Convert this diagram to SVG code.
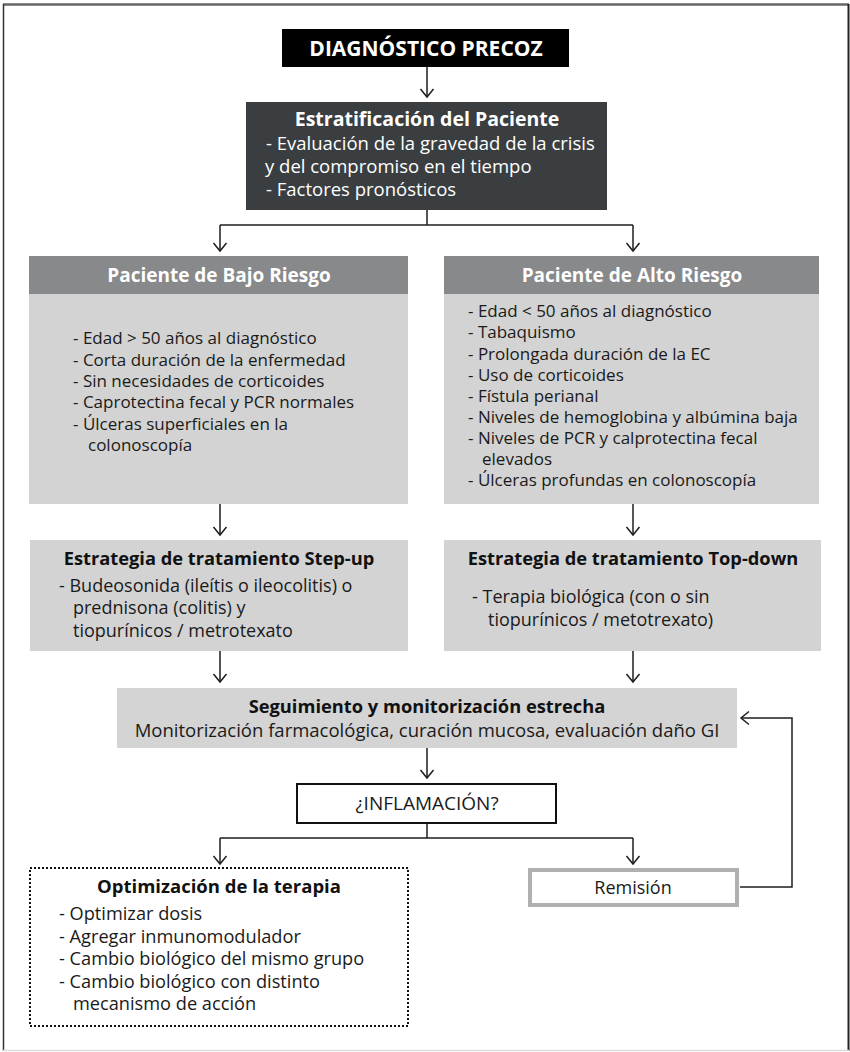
<svg xmlns="http://www.w3.org/2000/svg" width="850" height="1052" viewBox="0 0 850 1052">
  <style>
    text { font-family: "Open Sans", "Noto Sans", "DejaVu Sans", sans-serif; }
    .b { font-weight: 700; }
    .w { fill: #ffffff; }
    .k { fill: #111111; }
    .c { text-anchor: middle; }
    .body { font-size: 17px; fill: #1a1a1a; }
    .body2 { font-size: 18px; fill: #1a1a1a; }
    .opt { font-size: 18.2px; fill: #1a1a1a; }
    .ln { fill: none; stroke: #1e1e1e; stroke-width: 1.5; }
    .arr { fill: none; stroke: #1e1e1e; stroke-width: 1.5; marker-end: url(#ah); }
  </style>
  <defs>
    <marker id="ah" markerUnits="userSpaceOnUse" markerWidth="18" markerHeight="18" viewBox="-10 -9 12 18" refX="0" refY="0" orient="auto">
      <path d="M-8,-6.5 L0,0 L-8,6.5" fill="none" stroke="#1e1e1e" stroke-width="1.5"/>
    </marker>
  </defs>

  <rect width="850" height="1052" fill="#ffffff"/>

  <!-- frame -->
  <g id="frame">
    <line x1="3" y1="4.5" x2="849" y2="4.5" stroke="#666666" stroke-width="2.5"/>
    <line x1="3.5" y1="4" x2="3.5" y2="1051" stroke="#333333" stroke-width="1.5"/>
    <line x1="848.5" y1="4" x2="848.5" y2="1051" stroke="#222222" stroke-width="2"/>
    <line x1="3" y1="1050.5" x2="849" y2="1050.5" stroke="#dddddd" stroke-width="1.5"/>
  </g>

  <!-- connectors -->
  <g id="connectors">
    <path class="arr" d="M427,67 V97"/>
    <path class="ln" d="M427,210 V225 M220,225 H633"/>
    <path class="arr" d="M220,225 V251"/>
    <path class="arr" d="M633,225 V251"/>
    <path class="arr" d="M220,504 V535"/>
    <path class="arr" d="M633,504 V535"/>
    <path class="arr" d="M220,651 V682"/>
    <path class="arr" d="M633,651 V682"/>
    <path class="arr" d="M427,748 V778"/>
    <path class="ln" d="M427,823 V838 M220,838 H633"/>
    <path class="arr" d="M220,838 V864"/>
    <path class="arr" d="M633,838 V864"/>
    <path class="arr" d="M740,887 H792 V718 H741" stroke="#333333" stroke-width="2"/>
  </g>

  <!-- DIAGNÓSTICO PRECOZ -->
  <g id="diagnostico">
    <rect x="282" y="29" width="287" height="38" fill="#000000"/>
    <text x="426" y="55.5" class="b w c" font-size="21">DIAGNÓSTICO PRECOZ</text>
  </g>

  <!-- Estratificación del Paciente -->
  <g id="estratificacion">
    <rect x="246" y="102" width="361" height="108" fill="#3b3e40"/>
    <text x="427" y="126" class="b w c" font-size="19.5">Estratificación del Paciente</text>
    <text x="266" y="150" class="w" font-size="18.5">- Evaluación de la gravedad de la crisis</text>
    <text x="265" y="173" class="w" font-size="18.5">y del compromiso en el tiempo</text>
    <text x="266" y="196" class="w" font-size="18.5">- Factores pronósticos</text>
  </g>

  <!-- Paciente de Bajo Riesgo -->
  <g id="bajo-riesgo">
    <rect x="29" y="294" width="379" height="210" fill="#d3d3d3"/>
    <rect x="29" y="256" width="379" height="38" fill="#87898b"/>
    <text x="219" y="282" class="b w c" font-size="19">Paciente de Bajo Riesgo</text>
    <text class="body" x="73" y="344">- Edad &gt; 50 años al diagnóstico</text>
    <text class="body" x="73" y="366">- Corta duración de la enfermedad</text>
    <text class="body" x="73" y="387">- Sin necesidades de corticoides</text>
    <text class="body" x="73" y="408">- Caprotectina fecal y PCR normales</text>
    <text class="body" x="73" y="430">- Úlceras superficiales en la</text>
    <text class="body" x="88" y="451">colonoscopía</text>
  </g>

  <!-- Paciente de Alto Riesgo -->
  <g id="alto-riesgo">
    <rect x="444" y="294" width="375" height="210" fill="#d3d3d3"/>
    <rect x="444" y="256" width="375" height="38" fill="#87898b"/>
    <text x="632" y="282" class="b w c" font-size="19">Paciente de Alto Riesgo</text>
    <text class="body" x="468" y="317">- Edad &lt; 50 años al diagnóstico</text>
    <text class="body" x="468" y="338">- Tabaquismo</text>
    <text class="body" x="468" y="360">- Prolongada duración de la EC</text>
    <text class="body" x="468" y="381">- Uso de corticoides</text>
    <text class="body" x="468" y="402">- Fístula perianal</text>
    <text class="body" x="468" y="423">- Niveles de hemoglobina y albúmina baja</text>
    <text class="body" x="468" y="444">- Niveles de PCR y calprotectina fecal</text>
    <text class="body" x="482" y="465">elevados</text>
    <text class="body" x="468" y="486">- Úlceras profundas en colonoscopía</text>
  </g>

  <!-- Estrategia Step-up -->
  <g id="step-up">
    <rect x="30" y="540" width="378" height="111" fill="#d3d3d3"/>
    <text x="219" y="565" class="b k c" font-size="18.3">Estrategia de tratamiento Step-up</text>
    <text class="body2" x="59" y="592">- Budeosonida (ileítis o ileocolitis) o</text>
    <text class="body2" x="73" y="614">prednisona (colitis) y</text>
    <text class="body2" x="73" y="637">tiopurínicos / metrotexato</text>
  </g>

  <!-- Estrategia Top-down -->
  <g id="top-down">
    <rect x="444" y="540" width="377" height="111" fill="#d3d3d3"/>
    <text x="633" y="565" class="b k c" font-size="18.3">Estrategia de tratamiento Top-down</text>
    <text class="body2" x="472" y="603">- Terapia biológica (con o sin</text>
    <text class="body2" x="488" y="626">tiopurínicos / metotrexato)</text>
  </g>

  <!-- Seguimiento -->
  <g id="seguimiento">
    <rect x="117" y="688" width="620" height="60" fill="#d4d4d4"/>
    <text x="427" y="713" class="b k c" font-size="18.3">Seguimiento y monitorización estrecha</text>
    <text x="427" y="737" class="c" font-size="18.5" fill="#1a1a1a">Monitorización farmacológica, curación mucosa, evaluación daño GI</text>
  </g>

  <!-- Inflamación -->
  <g id="inflamacion">
    <rect x="297" y="784" width="259" height="39" fill="#ffffff" stroke="#111111" stroke-width="2"/>
    <text x="427" y="810" class="c" font-size="19" fill="#1a1a1a">¿INFLAMACIÓN?</text>
  </g>

  <!-- Optimización de la terapia -->
  <g id="optimizacion">
    <rect x="30" y="868" width="378" height="158" fill="#ffffff" stroke="#111111" stroke-width="2" stroke-dasharray="2 2"/>
    <text x="219" y="893" class="b k c" font-size="18.5">Optimización de la terapia</text>
    <text class="opt" x="59" y="920">- Optimizar dosis</text>
    <text class="opt" x="59" y="942.5">- Agregar inmunomodulador</text>
    <text class="opt" x="59" y="965">- Cambio biológico del mismo grupo</text>
    <text class="opt" x="59" y="987.5">- Cambio biológico con distinto</text>
    <text class="opt" x="73" y="1010">mecanismo de acción</text>
  </g>

  <!-- Remisión -->
  <g id="remision">
    <rect x="530" y="870" width="207" height="35" fill="#ffffff" stroke="#b0b0b0" stroke-width="4"/>
    <text x="633" y="894" class="c" font-size="18" fill="#1a1a1a">Remisión</text>
  </g>
</svg>
